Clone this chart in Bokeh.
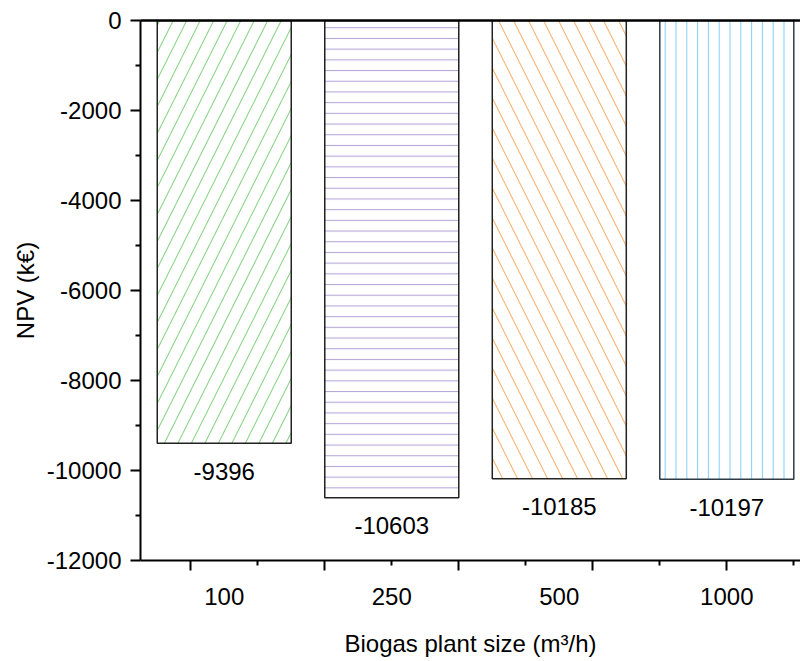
from bokeh.plotting import figure
from bokeh.models import Range1d, FixedTicker, LinearAxis
from bokeh.embed import file_html
from bokeh.resources import INLINE
from bokeh.core.properties import value

# ---- data ----
categories = ["100", "250", "500", "1000"]
npv = [-9396, -10603, -10185, -10197]
positions = [1, 2, 3, 4]
y_ticks = [0, -2000, -4000, -6000, -8000, -10000, -12000]
y_tick_labels = ["0", "-2000", "-4000", "-6000", "-8000", "-10000", "-12000"]
y_minor_ticks = [-1000, -3000, -5000, -7000, -9000, -11000]
x_major_ticks = [0.8, 1.6, 2.4, 3.2, 4.0]
x_minor_ticks = [1.2, 2.0, 2.8, 3.6, 4.4]
x_title = "Biogas plant size (m³/h)"
y_title = "NPV (k€)"

# ---- styles ----
hatch_colors = ["#8cd68c", "#b6a7d8", "#f7b474", "#88d0f7"]
hatch_patterns = ["right_diagonal_line", "horizontal_line", "left_diagonal_line", "vertical_line"]
hatch_scales = [27, 10.7, 30, 10.8]
outline_colors = ["#222222", "#222222", "#222222", "#2f3c46"]
FONT = "Liberation Sans"
FS = "24px"

p = figure(width=800, height=661,
           x_range=Range1d(0.5, 4.44), y_range=Range1d(-12000, 0),
           output_backend="svg", toolbar_location=None,
           min_border_left=140, min_border_right=0,
           min_border_top=20, min_border_bottom=101)
p.grid.visible = False
p.outline_line_color = None
p.background_fill_color = "white"
p.border_fill_color = "white"

for i in range(len(npv)):
    p.vbar(x=[positions[i]], top=[0], bottom=[npv[i]], width=0.8,
           fill_color="white", line_color=outline_colors[i], line_width=1.5,
           hatch_pattern=hatch_patterns[i], hatch_color=hatch_colors[i],
           hatch_scale=hatch_scales[i], hatch_weight=1.1)

p.text(x=positions, y=npv, text=[str(v) for v in npv],
       text_align="center", text_baseline="middle", y_offset=28,
       text_font=value(FONT), text_font_size=FS, text_color="black")

# y axis
ya = p.yaxis[0]
ya.ticker = FixedTicker(ticks=y_ticks, minor_ticks=y_minor_ticks)
ya.major_label_overrides = {y_ticks[i]: y_tick_labels[i] for i in range(len(y_ticks))}
ya.axis_line_width = 2
ya.axis_line_color = "black"
ya.major_tick_line_color = "black"
ya.minor_tick_line_color = "black"
ya.major_tick_line_width = 2
ya.minor_tick_line_width = 2
ya.major_tick_in = 0
ya.major_tick_out = 10
ya.minor_tick_in = 0
ya.minor_tick_out = 5
ya.major_label_standoff = 9
ya.major_label_text_font = FONT
ya.major_label_text_font_size = FS
ya.major_label_text_color = "black"
ya.axis_label = y_title
ya.axis_label_text_font = FONT
ya.axis_label_text_font_size = FS
ya.axis_label_text_font_style = "normal"
ya.axis_label_text_color = "black"
ya.axis_label_standoff = 5

# x axis (ticks only)
xa = p.xaxis[0]
xa.ticker = FixedTicker(ticks=x_major_ticks, minor_ticks=x_minor_ticks)
xa.axis_line_width = 2
xa.axis_line_color = "black"
xa.major_tick_line_color = "black"
xa.minor_tick_line_color = "black"
xa.major_tick_line_width = 2
xa.minor_tick_line_width = 2
xa.major_tick_in = 0
xa.major_tick_out = 10
xa.minor_tick_in = 0
xa.minor_tick_out = 5
xa.major_label_text_font_size = "0px"
xa.major_label_text_color = None
xa.major_label_standoff = 0

# x axis (category labels under bars)
xl = LinearAxis(ticker=FixedTicker(ticks=positions),
                major_label_overrides={positions[i]: categories[i] for i in range(len(categories))},
                axis_line_color=None, major_tick_line_color=None, minor_tick_line_color=None,
                major_tick_in=0, major_tick_out=0, major_label_standoff=17,
                major_label_text_font=FONT, major_label_text_font_size=FS,
                major_label_text_color="black",
                axis_label=x_title, axis_label_text_font=FONT,
                axis_label_text_font_size=FS, axis_label_text_font_style="normal",
                axis_label_text_color="black",
                axis_label_standoff=22)
p.add_layout(xl, "below")

# top border
top = LinearAxis(ticker=FixedTicker(ticks=[]), axis_line_width=2.5, axis_line_color="black",
                 major_label_text_font_size="0px", major_label_text_color=None,
                 major_tick_line_color=None, minor_tick_line_color=None,
                 major_label_standoff=0, major_tick_out=0, major_tick_in=0)
p.add_layout(top, "above")

open("out.html", "w").write(file_html(p, INLINE))
